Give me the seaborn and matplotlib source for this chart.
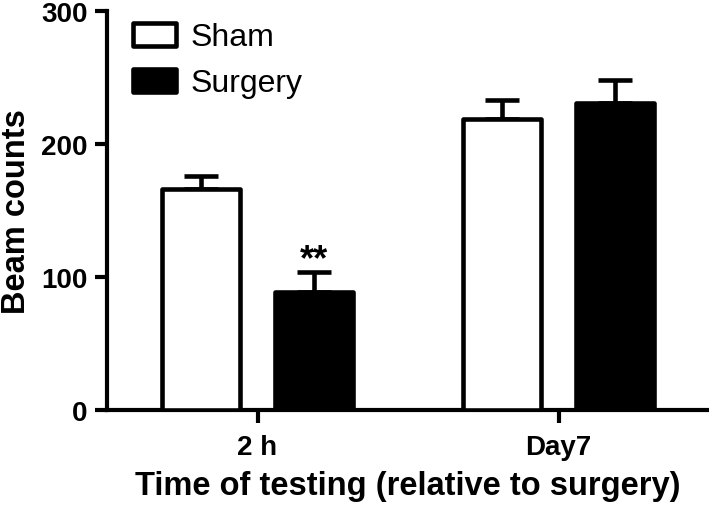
import matplotlib
matplotlib.use("Agg")
import matplotlib.pyplot as plt
import seaborn as sns
import pandas as pd

times = ["2 h", "Day7"]
groups = ["Sham", "Surgery"]
sham_mean = [166, 219]
sham_err = [10, 14]
surgery_mean = [89, 231]
surgery_err = [15, 17]

df = pd.DataFrame({
    "time": times + times,
    "group": [groups[0]] * 2 + [groups[1]] * 2,
    "count": sham_mean + surgery_mean,
})

sns.set_style("ticks")
plt.rcParams["font.family"] = ["Liberation Sans", "DejaVu Sans"]
for k in ["text.color", "axes.labelcolor", "xtick.color", "ytick.color", "axes.edgecolor"]:
    plt.rcParams[k] = "black"

fig = plt.figure(figsize=(7.09, 5.06), dpi=100)
ax = fig.add_axes([0.151, 0.188, 0.849, 0.788])

sns.barplot(data=df, x="time", y="count", hue="group", order=times, hue_order=groups,
            palette={"Sham": "white", "Surgery": "black"}, edgecolor="black",
            linewidth=3.3, width=0.75, gap=0.31, errorbar=None, ax=ax, zorder=3)

for cont, errs in zip(ax.containers, [sham_err, surgery_err]):
    for p, e in zip(cont.patches, errs):
        p.set_joinstyle("round")
        xc = p.get_x() + p.get_width() / 2
        ax.errorbar([xc], [p.get_height()], yerr=[[0], [e]], fmt="none",
                    ecolor="black", elinewidth=3.3, capsize=12, capthick=3.3, zorder=2)

# significance marker above Surgery 2 h
p = ax.containers[1].patches[0]
ax.text(p.get_x() + p.get_width() / 2, surgery_mean[0] + surgery_err[0] - 4, "**",
        ha="center", va="bottom", fontsize=26, fontweight="bold")

ax.set_ylim(0, 300)
ax.set_xlim(-0.5, 1.5)
ax.set_yticks([0, 100, 200, 300])
sns.despine(ax=ax)
for s in ["left", "bottom"]:
    ax.spines[s].set_linewidth(3)
ax.tick_params(axis="both", width=3, length=9, labelsize=20)
ax.tick_params(axis="y", pad=5)
ax.tick_params(axis="x", pad=8.5)
for lab in ax.get_xticklabels() + ax.get_yticklabels():
    lab.set_fontweight("bold")

ax.set_ylabel("Beam counts", fontsize=23.5, fontweight="bold", labelpad=6.5)
ax.set_xlabel("Time of testing (relative to surgery)", fontsize=23.5, fontweight="bold", labelpad=7)

handles, labels = ax.get_legend_handles_labels()
leg = ax.legend(handles, labels, loc="upper left", bbox_to_anchor=(0.022, 1.004), frameon=False,
                fontsize=23, handlelength=1.35, handleheight=0.72, handletextpad=0.45,
                labelspacing=0.5, borderaxespad=0.0, borderpad=0.4)
for h in leg.legend_handles:
    h.set_edgecolor("black")
    h.set_linewidth(3.3)
    h.set_joinstyle("round")

fig.savefig("out.png", dpi=100)
